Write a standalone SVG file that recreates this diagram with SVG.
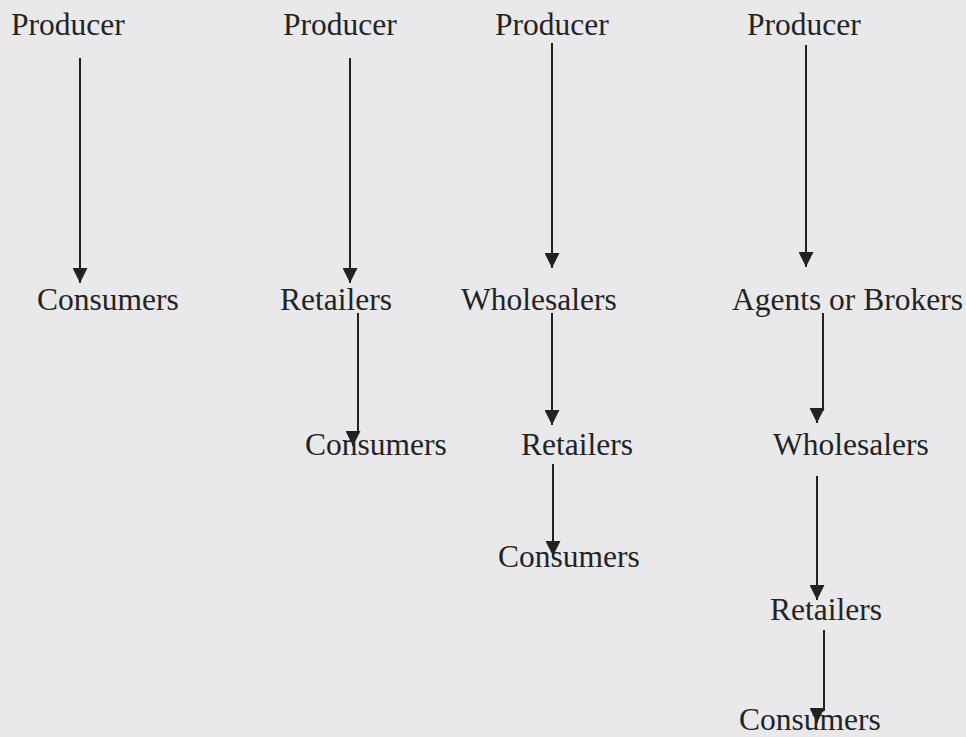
<svg xmlns="http://www.w3.org/2000/svg" width="966" height="737" viewBox="0 0 966 737">
<style>
.t{font-family:'Liberation Serif','Times New Roman','DejaVu Serif',serif;font-size:31.5px;fill:#232323}
.c{fill:none;stroke:#222;stroke-width:2}
</style>
<defs>
<marker id="ah" viewBox="0 0 10 10" refX="10" refY="5" markerUnits="userSpaceOnUse" markerWidth="15" markerHeight="15" orient="auto">
<path d="M0,0 L10,5 L0,10 z" fill="#222"/>
</marker>
</defs>
<rect width="966" height="737" fill="#e9e9eb"/>
<g id="connectors">
<path class="c" d="M80 58 V283" marker-end="url(#ah)"/>
<path class="c" d="M350 58 V283" marker-end="url(#ah)"/>
<path class="c" d="M358 313 V432 L353 434 V446" marker-end="url(#ah)"/>
<path class="c" d="M552 43 V268" marker-end="url(#ah)"/>
<path class="c" d="M552 313 V425" marker-end="url(#ah)"/>
<path class="c" d="M553 464 V556" marker-end="url(#ah)"/>
<path class="c" d="M806 45 V267" marker-end="url(#ah)"/>
<path class="c" d="M823 313 V410 L817 413 V423" marker-end="url(#ah)"/>
<path class="c" d="M817 476 V600" marker-end="url(#ah)"/>
<path class="c" d="M824 630 V710 L817 713 V723" marker-end="url(#ah)"/>
</g>
<g id="c1-producer"><text class="t" font-family="Liberation Serif, serif" x="11" y="35">Producer</text></g>
<g id="c1-consumers"><text class="t" font-family="Liberation Serif, serif" x="37" y="310">Consumers</text></g>
<g id="c2-producer"><text class="t" font-family="Liberation Serif, serif" x="283" y="35">Producer</text></g>
<g id="c2-retailers"><text class="t" font-family="Liberation Serif, serif" x="280" y="310">Retailers</text></g>
<g id="c2-consumers"><text class="t" font-family="Liberation Serif, serif" x="305" y="455">Consumers</text></g>
<g id="c3-producer"><text class="t" font-family="Liberation Serif, serif" x="495" y="35">Producer</text></g>
<g id="c3-wholesalers"><text class="t" font-family="Liberation Serif, serif" x="461" y="310">Wholesalers</text></g>
<g id="c3-retailers"><text class="t" font-family="Liberation Serif, serif" x="521" y="455">Retailers</text></g>
<g id="c3-consumers"><text class="t" font-family="Liberation Serif, serif" x="498" y="567">Consumers</text></g>
<g id="c4-producer"><text class="t" font-family="Liberation Serif, serif" x="747" y="35">Producer</text></g>
<g id="c4-agents"><text class="t" font-family="Liberation Serif, serif" x="732" y="310">Agents or Brokers</text></g>
<g id="c4-wholesalers"><text class="t" font-family="Liberation Serif, serif" x="773" y="455">Wholesalers</text></g>
<g id="c4-retailers"><text class="t" font-family="Liberation Serif, serif" x="770" y="620">Retailers</text></g>
<g id="c4-consumers"><text class="t" font-family="Liberation Serif, serif" x="739" y="730">Consumers</text></g>
</svg>
